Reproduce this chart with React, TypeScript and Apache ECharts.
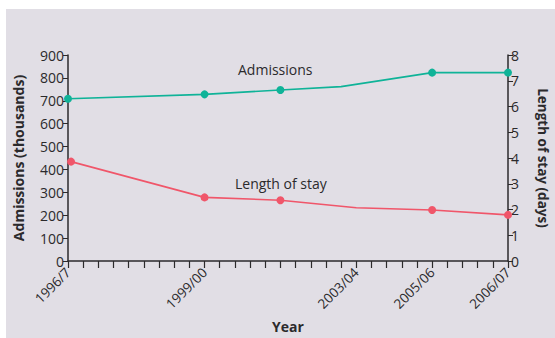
import React, { useEffect, useRef } from "react";
import * as echarts from "echarts";

const tickLabels: Record<number, string> = {
  0: "1996/7",
  9: "1999/00",
  19: "2003/04",
  24: "2005/06",
  29: "2006/07",
};
const admX = [0, 9, 14, 18, 24, 29];
const admVals = [709, 728, 747, 762, 823, 823];
const admMarked = [true, true, true, false, true, true];
const losX = [0.2, 9, 14, 19, 24, 29];
const losVals = [3.86, 2.47, 2.36, 2.07, 1.98, 1.79];
const losMarked = [true, true, true, false, true, true];

const FONT = "Open Sans";
const TXT = "#2b2a2c";

export default function App() {
  const ref = useRef<HTMLDivElement>(null);
  useEffect(() => {
    if (!ref.current) return;
    const chart = echarts.init(ref.current, undefined, { renderer: "svg" });
    const axisLine = { show: true, lineStyle: { color: "#2b2a2c", width: 1.5 } };
    chart.setOption({
      animation: false,
      backgroundColor: "#e1dee5",
      textStyle: { fontFamily: FONT },
      grid: { left: 62, right: 47, top: 46, bottom: 77, containLabel: false, outerBoundsMode: "none" },
      xAxis: {
        type: "value",
        min: 0,
        max: 29,
        interval: 1,
        name: "Year",
        nameLocation: "middle",
        nameGap: 58,
        nameTextStyle: { fontFamily: FONT, fontWeight: "bold", fontSize: 14, color: TXT },
        axisLine,
        axisTick: { show: true, length: 7, lineStyle: { color: "#2b2a2c", width: 1.2 } },
        splitLine: { show: false },
        axisLabel: {
          rotate: 45,
          fontSize: 13.5,
          color: TXT,
          margin: 9,
          fontFamily: FONT,
          formatter: (v: number) => tickLabels[Math.round(v)] ?? "",
        },
      },
      yAxis: [
        {
          type: "value",
          min: 0,
          max: 900,
          interval: 100,
          name: "Admissions (thousands)",
          nameLocation: "middle",
          nameGap: 43,
          nameTextStyle: { fontFamily: FONT, fontWeight: "bold", fontSize: 14, color: TXT },
          axisLine,
          axisTick: { show: true, length: 5, lineStyle: { color: "#2b2a2c" } },
          splitLine: { show: false },
          axisLabel: { fontSize: 14, color: TXT, margin: 4, fontFamily: FONT },
        },
        {
          type: "value",
          min: 0,
          max: 8,
          interval: 1,
          position: "right",
          name: "Length of stay (days)",
          nameLocation: "middle",
          nameRotate: -90,
          nameGap: 28,
          nameTextStyle: { fontFamily: FONT, fontWeight: "bold", fontSize: 13.5, color: TXT },
          axisLine,
          axisTick: { show: true, length: 5, lineStyle: { color: "#2b2a2c" } },
          splitLine: { show: false },
          axisLabel: { fontSize: 14, color: TXT, margin: 3, fontFamily: FONT },
        },
      ],
      series: [
        {
          type: "line",
          yAxisIndex: 0,
          data: admX.map((x, i) => ({
            value: [x, admVals[i]],
            symbolSize: admMarked[i] ? 8 : 0,
          })),
          symbol: "circle",
          lineStyle: { color: "#0fb398", width: 1.6 },
          itemStyle: { color: "#0fb398" },
          z: 3,
        },
        {
          type: "line",
          yAxisIndex: 1,
          data: losX.map((x, i) => ({
            value: [x, losVals[i]],
            symbolSize: losMarked[i] ? 8 : 0,
          })),
          symbol: "circle",
          lineStyle: { color: "#f0566a", width: 1.6 },
          itemStyle: { color: "#f0566a" },
          z: 3,
        },
      ],
      graphic: [
        {
          type: "text",
          left: 232,
          top: 53,
          style: { text: "Admissions", fontFamily: FONT, fontSize: 14, fill: TXT },
        },
        {
          type: "text",
          left: 229,
          top: 167,
          style: { text: "Length of stay", fontFamily: FONT, fontSize: 14, fill: TXT },
        },
      ],
    });
    return () => chart.dispose();
  }, []);
  return (
    <div style={{ position: "fixed", left: 0, top: 0, width: 555, height: 338, background: "#ffffff" }}>
      <div ref={ref} style={{ position: "absolute", left: 6, top: 9, width: 549, height: 329 }} />
    </div>
  );
}
